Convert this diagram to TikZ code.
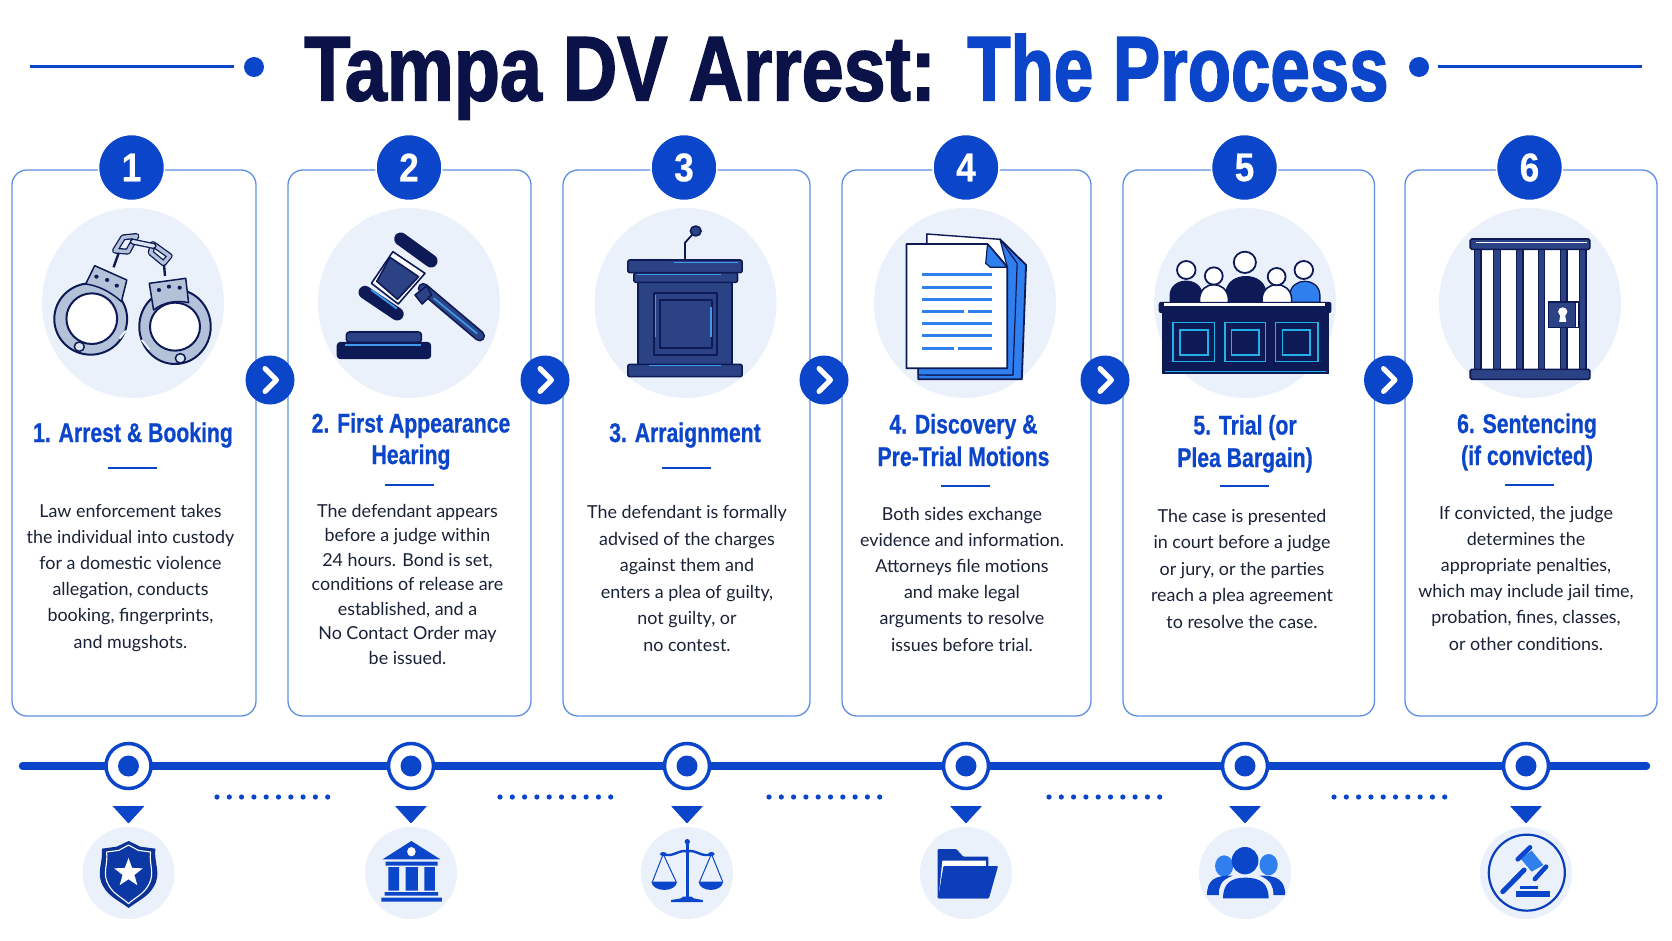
\documentclass[tikz,border=0pt]{standalone}
\usepackage{fontspec}
\usetikzlibrary{shapes.geometric}
\setmainfont{Lato}
\newfontfamily\headf[FakeStretch=0.785,FakeBold=0.6]{Liberation Sans Bold}
\newfontfamily\titlef[FakeStretch=0.82,FakeBold=1.6]{Liberation Sans Bold}
\newfontfamily\titleg[FakeStretch=0.77,FakeBold=1.6]{Liberation Sans Bold}
\newfontfamily\numf[FakeStretch=0.88,FakeBold=0.6]{Liberation Sans Bold}
\newfontfamily\bodyf{Lato}
\definecolor{brand}{HTML}{0B45C9}
\definecolor{titlenavy}{HTML}{0A1248}
\definecolor{navy}{HTML}{0E1A55}
\definecolor{midblue}{HTML}{2B4285}
\definecolor{hilite}{HTML}{3F9BEA}
\definecolor{cyanl}{HTML}{22B0E6}
\definecolor{sky}{HTML}{2F7FEE}
\definecolor{disc}{HTML}{EAF1FA}
\definecolor{cardline}{HTML}{5F8FE2}
\definecolor{bodytext}{HTML}{1A2238}
\definecolor{steel}{HTML}{B3C1D9}
\definecolor{steell}{HTML}{DCE4F0}
\tikzset{
  zA/.style 2 args={shift={(#1pt,-#2pt)},x=0.35714pt,y=-0.33333pt},
  zB/.style 2 args={shift={(#1pt,-#2pt)},x=0.53571pt,y=-0.33333pt},
  stepcard/.style 2 args={draw=cardline,line width=1.3pt,fill=white,rounded corners=15pt,rectangle,inner sep=0pt,minimum width=#1pt,minimum height=#2pt},
  numdisc/.style={circle,fill=brand,draw=white,line width=1.5pt,inner sep=0pt,minimum size=66pt,text=white,font=\numf\fontsize{40}{40}\selectfont},
  bigdisc/.style={ellipse,fill=disc,inner sep=0pt,minimum width=182pt,minimum height=190pt},
  smalldisc/.style={ellipse,fill=disc,inner sep=0pt,minimum width=92pt,minimum height=92pt},
  arrowdisc/.style={circle,fill=brand,inner sep=0pt,minimum size=49pt},
  chev/.style={draw=white,line width=5pt,line cap=round,line join=round},
  ring/.style={circle,fill=white,draw=brand,line width=3.5pt,inner sep=0pt,minimum size=45pt},
  ringdot/.style={circle,fill=brand,inner sep=0pt,minimum size=21pt},
  headline/.style={font=\headf\fontsize{27}{#1}\selectfont,text=brand,align=center,anchor=base,inner sep=0pt},
  body/.style={font=\bodyf\fontsize{17.9}{#1}\selectfont,text=bodytext,align=center,anchor=base,inner sep=0pt},
  headrule/.style={draw=brand,line width=2.6pt},
  dotrow/.style={draw=brand,line width=5.2pt,line cap=round,dash pattern=on 0pt off 12.3pt},
  ico/.style={draw=navy,line width=1.6pt,fill=midblue,line join=round},
  steelp/.style={draw=navy,line width=1.5pt,fill=steel,line join=round},
  chainout/.style={draw=navy,line width=6pt,line join=round,line cap=round},
  chainin/.style={draw=steel,line width=3.4pt,line join=round,line cap=round}
}
\begin{document}
\begin{tikzpicture}[x=1pt,y=-1pt]
\useasboundingbox (0,0) rectangle (1672,941);
\fill[white] (0,0) rectangle (1672,941);

% title
\node[inner sep=0pt,anchor=base,font=\fontsize{92}{92}\selectfont] (title) at (846.5,100.5)
  {\textcolor{titlenavy}{\titlef Tampa DV Arrest:} \textcolor{brand}{\titleg The Process}};
\coordinate (tl0) at (30,66.5); \coordinate (tl1) at (233.5,66.5);
\coordinate (tr0) at (1438,66.5); \coordinate (tr1) at (1642,66.5);
\node[circle,fill=brand,inner sep=0pt,minimum size=20pt] (tdl) at (254,67) {};
\node[circle,fill=brand,inner sep=0pt,minimum size=20pt] (tdr) at (1419,67) {};
\draw[brand,line width=3pt] (tl0) -- (tl1);
\draw[brand,line width=3pt] (tr0) -- (tr1);

% cards
\node[stepcard={244}{546}] (card1) at (134,443) {};
\node[stepcard={243}{546}] (card2) at (409.5,443) {};
\node[stepcard={247}{546}] (card3) at (686.5,443) {};
\node[stepcard={249}{546}] (card4) at (966.5,443) {};
\node[stepcard={251.5}{546}] (card5) at (1248.75,443) {};
\node[stepcard={252}{546}] (card6) at (1531,443) {};

\node[numdisc] (num1) at (131.5,167.5) {1};
\node[numdisc] (num2) at (409,167.5) {2};
\node[numdisc] (num3) at (684,167.5) {3};
\node[numdisc] (num4) at (966,167.5) {4};
\node[numdisc] (num5) at (1244.5,167.5) {5};
\node[numdisc] (num6) at (1529.5,167.5) {6};

\node[bigdisc] (big1) at (133,303) {};
\node[bigdisc] (big2) at (409,303) {};
\node[bigdisc] (big3) at (685.5,303) {};
\node[bigdisc] (big4) at (965,303) {};
\node[bigdisc] (big5) at (1245,303) {};
\node[bigdisc] (big6) at (1530,303) {};

\foreach \a/\x in {a1/270,a2/545,a3/824,a4/1105,a5/1388.5}{
  \node[arrowdisc] (\a) at (\x,380) {};
  \draw[chev] (\x-5,368.5) -- (\x+6.5,380) -- (\x-5,391.5);
}

% handcuffs
\begin{scope}[zA={0}{120}]
  \draw[navy,line width=2.4pt] (332,400) -- (318,442);
  \draw[navy,line width=2.4pt] (458,420) -- (462,468);
  \draw[chainout] (322,392) -- (345,352) -- (382,348) -- (358,395) -- cycle;
  \draw[chainin] (322,392) -- (345,352) -- (382,348) -- (358,395) -- cycle;
  \draw[chainout] (428,372) -- (475,408) -- (458,430) -- (422,398) -- cycle;
  \draw[chainin] (428,372) -- (475,408) -- (458,430) -- (422,398) -- cycle;
  \draw[chainout] (372,365) -- (430,378);
  \draw[draw=steell,line width=3.4pt,line cap=round] (372,365) -- (430,378);
  \draw[steelp,line width=2pt] (254,597) circle [x radius=102,y radius=107];
  \draw[navy,line width=2pt,fill=white] (257,596) circle [x radius=71,y radius=76];
  \draw[steelp] (265,437) -- (355,480) -- (340,545) .. controls (310,515) and (275,497) .. (240,492) -- cycle;
  \fill[navy] (270,470) circle (6) (300,480) circle (6) (327,497) circle (6);
  \draw[steelp,fill=steell] (222,680) circle (14);
  \draw[draw=disc,line width=2pt] (335,655) -- (352,632);
  \draw[steelp,line width=2pt] (490,620) circle [x radius=100,y radius=112];
  \draw[navy,line width=2pt,fill=white] (490,620) circle [x radius=70,y radius=72];
  \draw[steelp] (418,490) -- (520,475) -- (528,548) .. controls (495,540) and (460,545) .. (430,570) -- cycle;
  \fill[navy] (445,510) circle (6) (473,500) circle (6) (503,503) circle (6);
  \draw[steelp,fill=steell] (505,715) circle (14);
  \draw[draw=disc,line width=2pt] (397,660) -- (418,688);
\end{scope}

% gavel
\begin{scope}[zA={0}{120}]
  \draw[navy,line width=11pt,line cap=round] (1185,505) -- (1343,648);
  \draw[midblue,line width=7.6pt,line cap=round] (1185,505) -- (1343,648);
  \draw[hilite,line width=1.6pt,line cap=round] (1215,535) -- (1335,640);
  \draw[ico] (1162,525) -- (1195,497) -- (1208,525) -- (1182,552) -- cycle;
  \draw[ico,fill=white] (1100,395) -- (1190,460) -- (1115,552) -- (1040,490) -- cycle;
  \draw[ico] (1092,412) -- (1172,470) -- (1113,538) -- (1055,484) -- cycle;
  \draw[navy,line width=13pt,line cap=round] (1122,357) -- (1207,423);
  \draw[navy,line width=13pt,line cap=round] (1022,517) -- (1112,582);
  \draw[hilite,line width=1.8pt,line cap=round] (1040,510) -- (1110,565);
  \draw[ico,rounded corners=3pt] (970,636) rectangle (1180,667);
  \draw[ico,fill=navy,rounded corners=3pt] (945,668) rectangle (1205,715);
  \draw[hilite,line width=1.5pt] (965,675) -- (1180,675);
\end{scope}

% podium
\begin{scope}[zA={560}{120}]
  \draw[navy,line width=1.8pt] (350,420) -- (350,368) -- (378,335);
  \draw[ico] (380,333) circle (15);
  \draw[ico] (219,487) rectangle (482,735);
  \draw[ico,line width=2pt] (262,520) rectangle (440,705);
  \draw[ico,line width=2pt] (280,540) rectangle (425,685);
  \draw[ico,rounded corners=2pt] (207,458) rectangle (497,487);
  \draw[ico,rounded corners=2pt] (190,420) rectangle (510,458);
  \draw[ico,rounded corners=2pt] (190,733) rectangle (510,770);
  \draw[hilite,line width=1.3pt] (318,428) -- (497,428) (215,463) -- (450,463) (250,736) -- (450,736) (267,525) -- (267,650) (423,560) -- (423,650);
\end{scope}

% documents
\begin{scope}[zA={560}{120}]
  \draw[draw=navy,line width=1.8pt,fill=sky,line join=round] (1232,358) -- (1305,435) -- (1293,778) -- (1003,778) -- (1003,700) -- cycle;
  \draw[draw=navy,line width=1.4pt,fill=white] (1027,342) -- (1232,358) -- (1275,440) -- (1268,765) -- (1027,765) -- cycle;
  \draw[draw=navy,line width=1.2pt,fill=sky,line join=round] (1232,358) -- (1280,430) -- (1268,765) -- (1003,765) -- (1003,745) -- (1252,745) -- (1252,440) -- cycle;
  \draw[draw=navy,line width=1.8pt,fill=white,line join=round] (970,372) -- (1197,372) -- (1252,440) -- (1252,745) -- (970,745) -- cycle;
  \draw[draw=navy,line width=1.2pt,fill=sky,line join=round] (1197,372) -- (1192,430) -- (1205,442) -- (1252,442) -- cycle;
  \draw[sky,line width=3pt] (1014,465) -- (1210,465) (1014,502) -- (1210,502) (1014,538) -- (1210,538) (1014,575) -- (1130,575) (1142,575) -- (1210,575) (1014,611) -- (1210,611) (1014,648) -- (1210,648) (1014,685) -- (1103,685) (1114,685) -- (1210,685);
\end{scope}

% jury
\begin{scope}[zA={1112}{120}]
  \draw[ico,fill=navy,line width=1.3pt] (163,547) -- (163,525) .. controls (165,470) and (250,470) .. (252,525) -- (252,547) -- cycle;
  \draw[ico,fill=sky,line width=1.3pt] (498,547) -- (498,525) .. controls (500,470) and (580,470) .. (582,525) -- (582,547) -- cycle;
  \draw[ico,fill=navy,line width=1.3pt] (320,547) -- (320,515) .. controls (325,455) and (425,455) .. (430,515) -- (430,547) -- cycle;
  \draw[ico,fill=white,line width=1.6pt] (245,549) -- (245,535) .. controls (250,480) and (320,480) .. (326,535) -- (326,549) -- cycle;
  \draw[ico,fill=white,line width=1.6pt] (420,549) -- (420,535) .. controls (425,480) and (498,480) .. (503,535) -- (503,549) -- cycle;
  \draw[ico,fill=white,line width=1.8pt] (208,450) circle [x radius=26,y radius=27];
  \draw[ico,fill=white,line width=1.8pt] (285,468) circle [x radius=25,y radius=26];
  \draw[ico,fill=white,line width=1.8pt] (372,427) circle [x radius=31,y radius=32];
  \draw[ico,fill=white,line width=1.8pt] (461,470) circle [x radius=25,y radius=26];
  \draw[ico,fill=white,line width=1.8pt] (537,450) circle [x radius=26,y radius=27];
  \draw[ico,fill=navy,line width=1pt] (140,578) rectangle (605,762);
  \draw[ico,fill=navy,rounded corners=2pt,line width=1pt] (132,547) rectangle (613,578);
  \fill[white] (145,548) rectangle (595,557);
  \draw[cyanl,line width=1.6pt] (170,608) rectangle (287,725) (190,630) rectangle (268,705) (316,608) rectangle (430,725) (334,630) rectangle (412,705) (458,608) rectangle (576,725) (477,630) rectangle (555,705) (148,755) -- (600,755);
\end{scope}

% cell
\begin{scope}[zA={1112}{120}]
  \fill[white] (1015,388) rectangle (1328,748);
  \foreach \b in {1024,1078,1142,1203,1265,1318}{
    \draw[ico,line width=1.2pt] (\b-9,388) rectangle (\b+9,748);
  }
  \draw[ico,rounded corners=1.5pt] (1003,357) rectangle (1338,388);
  \draw[ico,rounded corners=1.5pt] (1003,748) rectangle (1338,778);
  \draw[white,line width=.9pt] (1020,368) -- (1330,368);
  \draw[draw=navy,line width=1.2pt,fill=white] (1223,546) rectangle (1307,622);
  \draw[ico,line width=1.2pt] (1223,546) rectangle (1297,622);
  \fill[white] (1262,575) circle (13) (1256,580) -- (1268,580) -- (1272,606) -- (1252,606) -- cycle;
\end{scope}

% headings
\node[headline=31pt] (h1) at (133,442) {1. Arrest \& Booking};
\node[headline=31.5pt] (h2) at (411,464) {2. First Appearance\\Hearing};
\node[headline=31pt] (h3) at (685,442) {3. Arraignment};
\node[headline=32.5pt] (h4) at (963.5,466) {4. Discovery \&\\Pre-Trial Motions};
\node[headline=32.5pt] (h5) at (1245,467) {5. Trial (or\\Plea Bargain)};
\node[headline=32pt] (h6) at (1527,465) {6. Sentencing\\(if convicted)};

\draw[headrule] (108,468) -- (157,468);
\draw[headrule] (384.5,485) -- (433.5,485);
\draw[headrule] (661.5,468) -- (710.5,468);
\draw[headrule] (940.5,486) -- (989.5,486);
\draw[headrule] (1220,486) -- (1269,486);
\draw[headrule] (1505,485) -- (1554,485);

% body text
\node[body=26.1pt] (b1) at (130.5,648) {Law enforcement takes\\the individual into custody\\for a domestic violence\\allegation, conducts\\booking, fingerprints,\\and mugshots.};
\node[body=24.5pt] (b2) at (407.5,664) {The defendant appears\\before a judge within\\24 hours. Bond is set,\\conditions of release are\\established, and a\\No Contact Order may\\be issued.};
\node[body=26.5pt] (b3) at (687,651) {The defendant is formally\\advised of the charges\\against them and\\enters a plea of guilty,\\not guilty, or\\no contest.};
\node[body=26.2pt] (b4) at (962,651) {Both sides exchange\\evidence and information.\\Attorneys file motions\\and make legal\\arguments to resolve\\issues before trial.};
\node[body=26.5pt] (b5) at (1242,628) {The case is presented\\in court before a judge\\or jury, or the parties\\reach a plea agreement\\to resolve the case.};
\node[body=26.2pt] (b6) at (1526,650) {If convicted, the judge\\determines the\\appropriate penalties,\\which may include jail time,\\probation, fines, classes,\\or other conditions.};

% timeline
\coordinate (tstart) at (22.5,766); \coordinate (tend) at (1646.5,766);
\draw[brand,line width=7.4pt,line cap=round] (tstart) -- (tend);
\foreach \k/\x in {1/128.5,2/411,3/687,4/966,5/1245,6/1526}{
  \node[ring] (ring\k) at (\x,766) {};
  \node[ringdot] (dot\k) at (\x,766) {};
  \fill[brand,rounded corners=.6pt] (\x-16,806) -- (\x+16,806) -- (\x,823.5) -- cycle;
  \node[smalldisc] (sd\k) at (\x,873) {};
}
\draw[dotrow] (217,797) -- (331,797);
\draw[dotrow] (500,797) -- (614,797);
\draw[dotrow] (769,797) -- (883,797);
\draw[dotrow] (1049,797) -- (1163,797);
\draw[dotrow] (1334,797) -- (1448,797);

% badge
\begin{scope}[zB={0}{730}]
  \fill[brand!55!navy,line join=round] (240,333) -- (262,350) -- (290,356) .. controls (287,400) and (302,430) .. (287,470) .. controls (277,500) and (255,515) .. (240,534) .. controls (225,515) and (203,500) .. (193,470) .. controls (178,430) and (193,400) .. (190,356) -- (218,350) -- cycle;
  \draw[white,line width=1.1pt,fill=brand!70!navy,line join=round] (240,345) -- (258,361) -- (281,366) .. controls (278,405) and (290,430) .. (277,466) .. controls (268,493) and (250,505) .. (240,521) .. controls (230,505) and (212,493) .. (203,466) .. controls (190,430) and (202,405) .. (199,366) -- (222,361) -- cycle;
\end{scope}
\node[star,star points=5,star point ratio=2.4,fill=white,inner sep=0pt,minimum size=30pt] (starb) at (128.5,873) {};

% bank
\begin{scope}[zB={0}{730}]
  \fill[brand] (768,333) -- (822,388) -- (714,388) -- cycle;
  \fill[white] (768,365) circle [x radius=8,y radius=14];
  \fill[brand] (720,395) rectangle (817,407) (725,411) rectangle (745,482) (757,411) rectangle (780,482) (792,411) rectangle (812,482) (718,486) rectangle (818,497) (712,503) rectangle (825,515);
\end{scope}

% scales
\begin{scope}[zB={0}{730},brand]
  \draw[line width=3pt] (1283,340) -- (1283,505);
  \fill (1283,335) circle [x radius=5,y radius=8];
  \fill (1275,500) -- (1291,500) -- (1295,505) -- (1312,510) -- (1312,516) -- (1253,516) -- (1253,510) -- (1271,505) -- cycle;
  \draw[line width=2.4pt] (1238,372) .. controls (1255,385) and (1270,355) .. (1283,365) .. controls (1296,355) and (1311,385) .. (1328,372);
  \fill (1238,372) circle (6) (1328,372) circle (6);
  \draw[line width=1pt] (1238,372) -- (1218,455) (1238,372) -- (1262,455) (1328,372) -- (1306,455) (1328,372) -- (1349,455);
  \fill (1216,455) .. controls (1218,488) and (1262,488) .. (1264,455) -- cycle;
  \fill (1304,455) .. controls (1306,488) and (1348,488) .. (1350,455) -- cycle;
\end{scope}

% folder
\begin{scope}[zB={832}{730}]
  \fill[brand!80!navy,rounded corners=1pt] (197,505) -- (197,357) -- (232,357) -- (245,380) -- (292,380) -- (292,505) -- cycle;
  \fill[white] (206,392) -- (287,392) -- (287,420) -- (200,485) -- cycle;
  \fill[brand!85!navy,rounded corners=1pt] (208,408) -- (310,408) -- (293,505) -- (198,505) -- cycle;
\end{scope}

% group
\begin{scope}[zB={832}{730}]
  \fill[sky] (732,408) circle [x radius=17,y radius=32] (815,404) circle [x radius=17,y radius=32];
  \fill[brand] (771,392) circle [x radius=25,y radius=41];
  \fill[brand] (700,495) .. controls (700,450) and (715,435) .. (748,437) .. controls (725,450) and (722,470) .. (722,495) -- cycle;
  \fill[brand] (846,495) .. controls (846,450) and (830,435) .. (798,437) .. controls (820,450) and (824,470) .. (824,495) -- cycle;
  \fill[brand] (730,505) .. controls (730,460) and (745,443) .. (771,443) .. controls (800,443) and (815,460) .. (815,505) -- cycle;
\end{scope}

% gavel seal
\begin{scope}[zB={832}{730}]
  \draw[brand!85!navy,line width=2.2pt] (1297,428) circle [x radius=71,y radius=114];
  \fill[sky] (1306,362) -- (1328,405) -- (1306,425) -- (1285,385) -- cycle;
  \draw[brand,line width=4.6pt,line cap=round] (1303,352) -- (1280,388);
  \draw[brand,line width=4.6pt,line cap=round] (1333,410) -- (1312,447);
  \draw[brand,line width=5pt,line cap=round] (1292,420) -- (1252,485);
  \fill[brand] (1285,467) rectangle (1318,476);
  \fill[brand] (1277,484) rectangle (1340,500);
\end{scope}
\end{tikzpicture}
\end{document}
